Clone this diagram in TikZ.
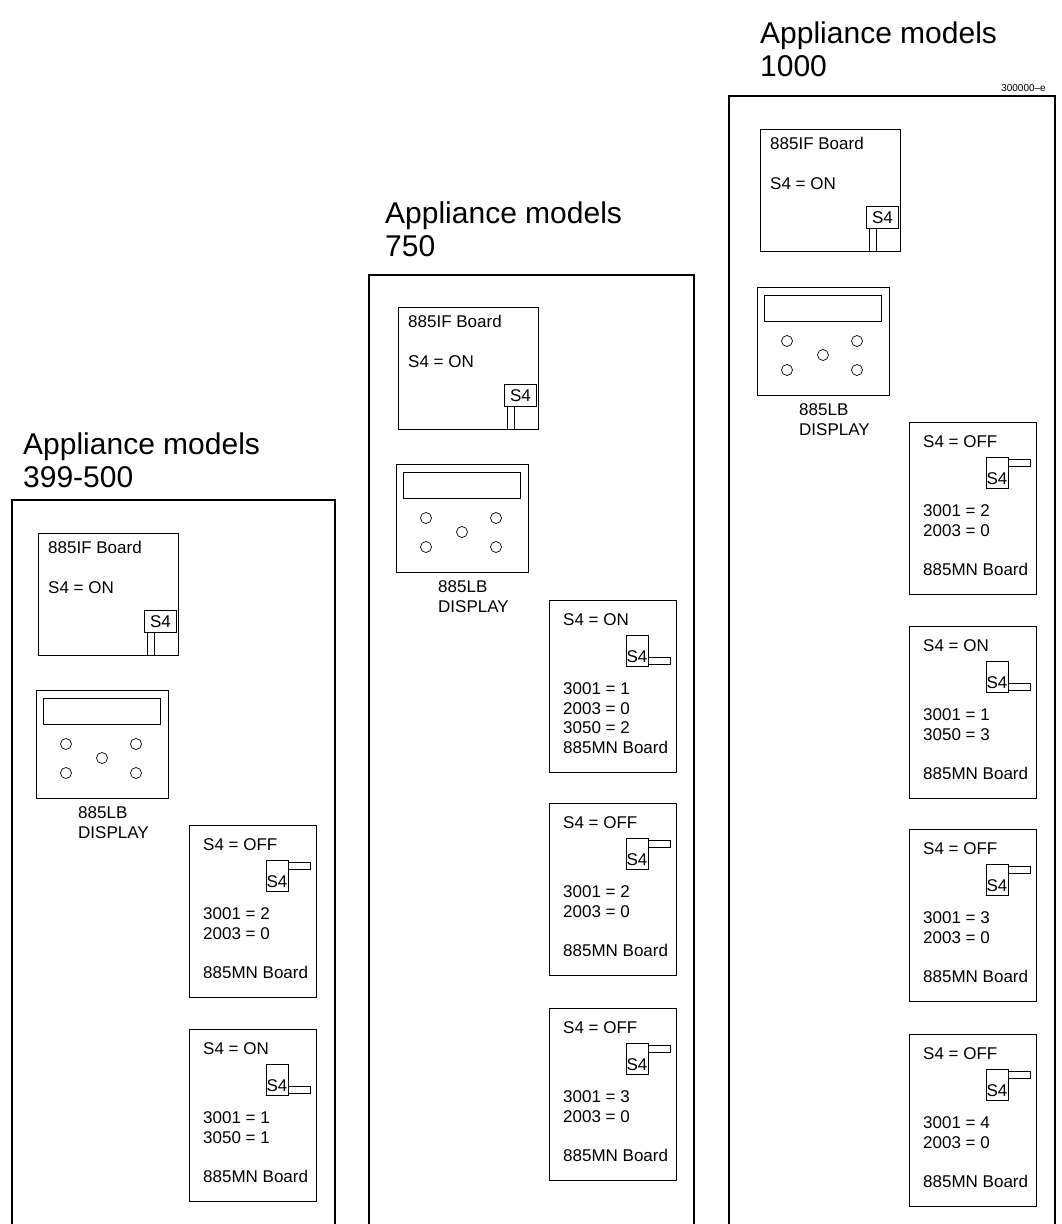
\documentclass[tikz,border=0pt]{standalone}
\usepackage{fontspec}
\setmainfont{Liberation Sans}
\usetikzlibrary{positioning}
\tikzset{
  cabinet/.style={draw, line width=1.2pt},
  boardbox/.style={draw, line width=0.9pt, inner sep=0pt, anchor=north west},
  boardtext/.style={inner sep=0pt, anchor=base west, align=left,
    font=\fontsize{17}{19.5}\selectfont},
  titletext/.style={inner sep=0pt, anchor=base west, align=left,
    font=\fontsize{30}{33}\selectfont},
  switchbox/.style={draw, line width=0.8pt, inner sep=0pt, anchor=north west},
  leverbox/.style={draw, line width=0.8pt},
  lcdbutton/.style={draw, circle, line width=0.7pt, minimum size=11pt, inner sep=0pt}
}
% interface board: name, x, y of top left corner
\newcommand{\ifboard}[3]{%
  \begin{scope}[shift={(#2,#3)}]
    \node[boardbox, minimum width=140pt, minimum height=122pt] (#1) at (0,0) {};
    \node[boardtext] (#1-name) at (10,20) {885IF Board};
    \node[boardtext] (#1-state) at (10,60) {S4 = ON};
    \node[switchbox, minimum width=32pt, minimum height=22pt,
      font=\fontsize{17}{19.5}\selectfont] (#1-sw) at (106,77) {S4};
    \draw[leverbox] (109,99) rectangle (116,122);
  \end{scope}}
% display board: name, x, y of top left corner
\newcommand{\lbdisplay}[3]{%
  \begin{scope}[shift={(#2,#3)}]
    \node[boardbox, minimum width=132pt, minimum height=108pt] (#1) at (0,0) {};
    \node[switchbox, minimum width=117pt, minimum height=26pt] (#1-lcd) at (7,8) {};
    \foreach \bx/\by [count=\k] in {30/54,100/54,66/68,30/83,100/83}
      \node[lcdbutton] (#1-btn\k) at (\bx,\by) {};
    % base of a two line node is the last line
    \node[boardtext] (#1-label) at (42,148) {885LB\\DISPLAY};
  \end{scope}}
% main board: name, x, y, switch state, lever top, settings
\newcommand{\mnboard}[6]{%
  \begin{scope}[shift={(#2,#3)}]
    \node[boardbox, minimum width=127pt, minimum height=172pt] (#1) at (0,0) {};
    \node[boardtext] (#1-state) at (14,25) {S4 = #4};
    \node[switchbox, minimum width=22pt, minimum height=31pt] (#1-sw) at (77,35) {};
    \node[boardtext, anchor=base] (#1-swlabel) at (88,62) {S4};
    \draw[leverbox] (99,#5) rectangle (121,#5+7);
    \node[boardtext] (#1-set) at (14,153) {#6};
  \end{scope}}

\begin{document}
\begin{tikzpicture}[x=1pt, y=-1pt]
\useasboundingbox (0,0) rectangle (1061,1224);

% models 399-500
\node[titletext] (titleA) at (23,487) {Appliance models\\399-500};
\draw[cabinet] (12,1230) |- (335,500) -- (335,1230);
\ifboard{ifA}{38}{533}
\lbdisplay{lbA}{36}{690}
\mnboard{mnA1}{189}{825}{OFF}{37}{3001 = 2\\2003 = 0\\[19.5pt]885MN Board}
\mnboard{mnA2}{189}{1029}{ON}{57}{3001 = 1\\3050 = 1\\[19.5pt]885MN Board}

% models 750
\node[titletext] (titleB) at (385,256) {Appliance models\\750};
\draw[cabinet] (369,1230) |- (694,275) -- (694,1230);
\ifboard{ifB}{398}{307}
\lbdisplay{lbB}{396}{464}
\mnboard{mnB1}{549}{600}{ON}{57}{3001 = 1\\2003 = 0\\3050 = 2\\885MN Board}
\mnboard{mnB2}{549}{803}{OFF}{37}{3001 = 2\\2003 = 0\\[19.5pt]885MN Board}
\mnboard{mnB3}{549}{1008}{OFF}{37}{3001 = 3\\2003 = 0\\[19.5pt]885MN Board}

% models 1000
\node[titletext] (titleC) at (760,76) {Appliance models\\1000};
\node[inner sep=0pt, anchor=base east, font=\fontsize{10}{10}\selectfont] (figid) at (1046,91) {300000--e};
\draw[cabinet] (729,1230) |- (1055,96) -- (1055,1230);
\ifboard{ifC}{760}{129}
\lbdisplay{lbC}{757}{287}
\mnboard{mnC1}{909}{422}{OFF}{37}{3001 = 2\\2003 = 0\\[19.5pt]885MN Board}
\mnboard{mnC2}{909}{626}{ON}{57}{3001 = 1\\3050 = 3\\[19.5pt]885MN Board}
\mnboard{mnC3}{909}{829}{OFF}{37}{3001 = 3\\2003 = 0\\[19.5pt]885MN Board}
\mnboard{mnC4}{909}{1034}{OFF}{37}{3001 = 4\\2003 = 0\\[19.5pt]885MN Board}
\end{tikzpicture}
\end{document}
